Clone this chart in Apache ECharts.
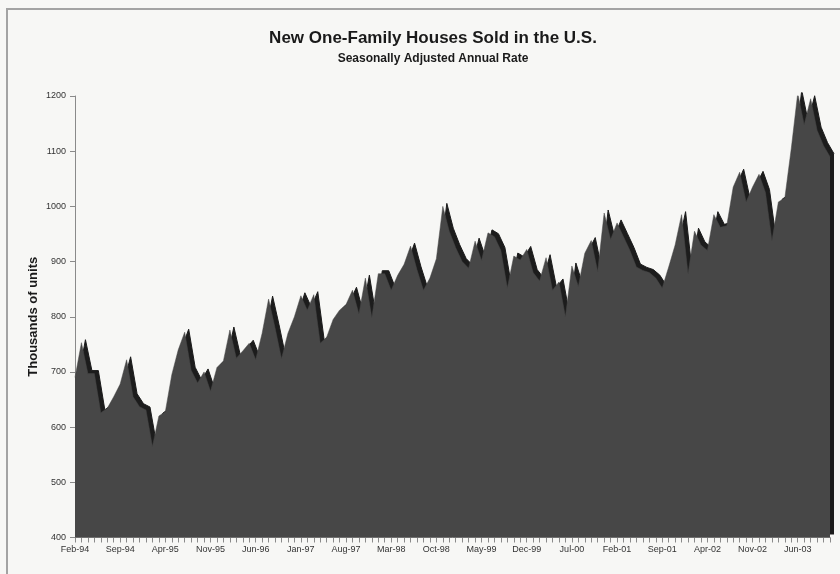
<!DOCTYPE html>
<html>
<head>
<meta charset="utf-8">
<title>New One-Family Houses Sold in the U.S.</title>
<script src="https://cdn.jsdelivr.net/npm/echarts@6/dist/echarts.min.js"></script>
<style>
  html, body { margin: 0; padding: 0; background: #f7f7f5; }
  #chart { width: 840px; height: 574px; }
</style>
</head>
<body>
<div id="chart"></div>
<script>
// Monthly categories, Feb 1994 through Nov 2003
const months = [
  'Feb-94','Mar-94','Apr-94','May-94','Jun-94','Jul-94','Aug-94','Sep-94','Oct-94','Nov-94','Dec-94',
  'Jan-95','Feb-95','Mar-95','Apr-95','May-95','Jun-95','Jul-95','Aug-95','Sep-95','Oct-95','Nov-95','Dec-95',
  'Jan-96','Feb-96','Mar-96','Apr-96','May-96','Jun-96','Jul-96','Aug-96','Sep-96','Oct-96','Nov-96','Dec-96',
  'Jan-97','Feb-97','Mar-97','Apr-97','May-97','Jun-97','Jul-97','Aug-97','Sep-97','Oct-97','Nov-97','Dec-97',
  'Jan-98','Feb-98','Mar-98','Apr-98','May-98','Jun-98','Jul-98','Aug-98','Sep-98','Oct-98','Nov-98','Dec-98',
  'Jan-99','Feb-99','Mar-99','Apr-99','May-99','Jun-99','Jul-99','Aug-99','Sep-99','Oct-99','Nov-99','Dec-99',
  'Jan-00','Feb-00','Mar-00','Apr-00','May-00','Jun-00','Jul-00','Aug-00','Sep-00','Oct-00','Nov-00','Dec-00',
  'Jan-01','Feb-01','Mar-01','Apr-01','May-01','Jun-01','Jul-01','Aug-01','Sep-01','Oct-01','Nov-01','Dec-01',
  'Jan-02','Feb-02','Mar-02','Apr-02','May-02','Jun-02','Jul-02','Aug-02','Sep-02','Oct-02','Nov-02','Dec-02',
  'Jan-03','Feb-03','Mar-03','Apr-03','May-03','Jun-03','Jul-03','Aug-03','Sep-03','Oct-03','Nov-03'
];

// Houses sold, seasonally adjusted annual rate (thousands of units)
const housesSold = [
  690, 753, 697, 697, 626, 634, 655, 678, 722, 655,
  637, 631, 565, 620, 628, 695, 740, 772, 703, 680,
  700, 665, 708, 720, 776, 725, 738, 752, 722, 770,
  832, 780, 724, 770, 800, 838, 812, 840, 752, 763,
  795, 812, 822, 848, 805, 870, 798, 878, 878, 848,
  875, 895, 928, 885, 848, 870, 905, 1000, 955, 925,
  900, 888, 937, 902, 952, 945, 920, 852, 910, 903,
  922, 880, 865, 907, 848, 863, 800, 892, 855, 915,
  938, 882, 988, 940, 970, 945, 920, 890, 884, 880,
  870, 852, 890, 930, 985, 878, 955, 930, 920, 985,
  962, 965, 1035, 1062, 1008, 1035, 1058, 1025, 938, 1008,
  1015, 1105, 1205, 1148, 1195, 1138, 1110, 1090
];

const yTicks = { min: 400, max: 1200, step: 100 };
const labelEvery = 7;

const FONT = "'Liberation Sans', Arial, sans-serif";

const chart = echarts.init(document.getElementById('chart'), null, { renderer: 'canvas' });

// plot frame; the second grid sits slightly up and to the right to give the area its depth
const plotLeft = 75, plotTop = 96, plotWidth = 755, plotHeight = 441.5;
const depthX = 4, depthY = 3;

chart.setOption({
  backgroundColor: '#f7f7f5',
  animation: false,
  title: [
    {
      text: 'New One-Family Houses Sold in the U.S.',
      left: 428, top: 25, textAlign: 'center',
      textStyle: { fontFamily: FONT, fontSize: 17, fontWeight: 'bold', color: '#1a1a1a' }
    },
    {
      text: 'Seasonally Adjusted Annual Rate',
      left: 428, top: 48, textAlign: 'center',
      textStyle: { fontFamily: FONT, fontSize: 12, fontWeight: 'bold', color: '#1a1a1a' }
    }
  ],
  graphic: [
    {
      type: 'polyline', silent: true, z: 0,
      shape: { points: [[7, 580], [7, 9], [850, 9]] },
      style: { stroke: '#a3a3a3', lineWidth: 2, fill: null }
    }
  ],
  grid: [
    { left: plotLeft + depthX, top: plotTop - depthY, width: plotWidth, height: plotHeight },
    { left: plotLeft, top: plotTop, width: plotWidth, height: plotHeight }
  ],
  xAxis: [
    { type: 'category', gridIndex: 0, data: months, boundaryGap: false, show: false },
    {
      type: 'category', gridIndex: 1, data: months, boundaryGap: false,
      axisLine: { show: true, lineStyle: { color: '#8a8a8a', width: 1 } },
      axisTick: { show: true, interval: 0, length: 5, lineStyle: { color: '#8a8a8a' } },
      axisLabel: {
        interval: labelEvery - 1, margin: 8,
        fontFamily: FONT, fontSize: 9, color: '#333'
      },
      splitLine: { show: false }
    }
  ],
  yAxis: [
    { type: 'value', gridIndex: 0, min: yTicks.min, max: yTicks.max, interval: yTicks.step, show: false },
    {
      type: 'value', gridIndex: 1, min: yTicks.min, max: yTicks.max, interval: yTicks.step,
      name: 'Thousands of units', nameLocation: 'middle', nameGap: 35, nameMoveOverlap: false,
      nameTextStyle: { fontFamily: FONT, fontSize: 13, fontWeight: 'bold', color: '#1a1a1a' },
      axisLine: { show: true, lineStyle: { color: '#8a8a8a', width: 1 } },
      axisTick: { show: true, length: 5, lineStyle: { color: '#8a8a8a' } },
      axisLabel: {
        margin: 9, fontFamily: FONT, fontSize: 9, color: '#333',
        formatter: v => String(v)
      },
      splitLine: { show: false }
    }
  ],
  series: [
    {
      name: 'depth', type: 'line', xAxisIndex: 0, yAxisIndex: 0, z: 1,
      data: housesSold, symbol: 'none', silent: true,
      lineStyle: { color: '#1c1c1c', width: 1 },
      areaStyle: { color: '#1c1c1c', opacity: 1 }
    },
    {
      name: 'Houses sold', type: 'line', xAxisIndex: 1, yAxisIndex: 1, z: 2,
      data: housesSold, symbol: 'none', silent: true,
      lineStyle: { color: '#474747', width: 0.5 },
      areaStyle: { color: '#474747', opacity: 1 }
    }
  ]
});
</script>
</body>
</html>
